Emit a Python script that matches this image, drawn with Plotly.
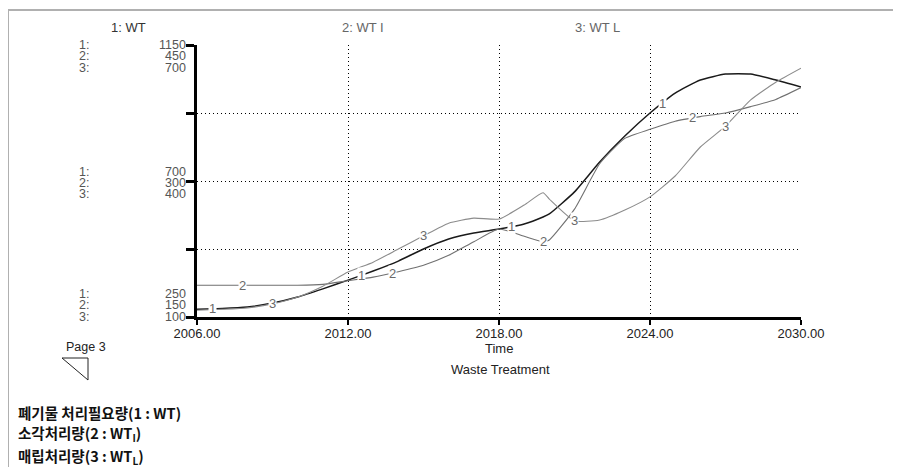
import plotly.graph_objects as go
import numpy as np

# ---------------- data ----------------
years = [2006, 2007, 2008, 2009, 2010, 2011, 2012, 2013, 2014, 2015, 2016, 2017, 2018, 2019,
         2019.75, 2020, 2021, 2022, 2023, 2024, 2025, 2026, 2027, 2028, 2029, 2030]
wt = [276, 278, 283, 296, 316, 343, 372, 402, 435, 475, 508, 528, 541, 558,
      581, 591, 664, 763, 849, 925, 991, 1034, 1054, 1054, 1034, 1011]
wt_i = [185, 185, 185, 185, 185, 186, 190, 194, 200, 207, 218, 233, 247, 239,
        233, 235, 269, 319, 347, 357, 366, 371, 375, 382, 390, 403]
wt_l = [115, 117, 120, 129, 144, 168, 199, 221, 250, 279, 307, 318, 316, 347,
        374, 360, 312, 314, 336, 365, 411, 475, 521, 579, 618, 649]

x_ticks = [2006, 2012, 2018, 2024, 2030]
x_tick_text = ["2006.00", "2012.00", "2018.00", "2024.00", "2030.00"]

y1_range = [250, 1150]
y2_range = [150, 450]
y3_range = [100, 700]
y1_labels = ["250", "700", "1150"]
y2_labels = ["150", "300", "450"]
y3_labels = ["100", "400", "700"]

series_names = ["1: WT", "2: WT I", "3: WT L"]
label_x1 = [2006.6, 2012.55, 2018.5, 2024.5]
label_x2 = [2007.8, 2013.75, 2019.75, 2025.7]
label_x3 = [2009.0, 2015.0, 2021.0, 2027.0]

legend_lines = ["<b>폐기물 처리필요량(1 : WT)</b>",
                "<b>소각처리량(2 : WT<sub>I</sub>)</b>",
                "<b>매립처리량(3 : WT<sub>L</sub>)</b>"]

# ---------------- geometry helpers ----------------
# page body has an 8px margin; the figure is sized so the page is exactly 901x475
OFF = 8
W, H = 901 - 2 * OFF, 475 - 2 * OFF
def fx(p):
    return (p - OFF) / W
def fy(p):
    return 1 - (p - OFF) / H

X0, X1 = 197, 801
Y0, Y1 = 45, 317

c1, c2, c3 = "#1a1a1a", "#707070", "#8c8c8c"
lab_col = "#6a6a6a"
FONT = "Liberation Sans"
GRID_DASH = "1px,3px"

fig = go.Figure()
fig.add_trace(go.Scatter(x=years, y=wt, mode="lines", yaxis="y",
                         line=dict(color=c1, width=1.5, shape="spline", smoothing=0.5),
                         showlegend=False, hoverinfo="skip"))
fig.add_trace(go.Scatter(x=years, y=wt_i, mode="lines", yaxis="y2",
                         line=dict(color=c2, width=1.1, shape="spline", smoothing=0.5),
                         showlegend=False, hoverinfo="skip"))
fig.add_trace(go.Scatter(x=years, y=wt_l, mode="lines", yaxis="y3",
                         line=dict(color=c3, width=1.1, shape="spline", smoothing=0.5),
                         showlegend=False, hoverinfo="skip"))

ann = []
# curve number labels
for lx_list, ys, yref, txt in [(label_x1, wt, "y", "1"), (label_x2, wt_i, "y2", "2"),
                               (label_x3, wt_l, "y3", "3")]:
    for lx in lx_list:
        ann.append(dict(x=lx, y=float(np.interp(lx, years, ys)), xref="x", yref=yref,
                        text=txt, showarrow=False, bgcolor="white", borderpad=0,
                        font=dict(family=FONT, size=13, color=lab_col)))

# header names
for name, px, col in zip(series_names, [128, 363, 597], ["#333333", "#666666", "#666666"]):
    ann.append(dict(x=fx(px), y=fy(27), xref="paper", yref="paper", text=name,
                    showarrow=False, xanchor="center", yanchor="middle",
                    font=dict(family=FONT, size=13, color=col)))

# y-axis scale labels (three groups)
groups = [
    (45, [y1_labels[2], y2_labels[2], y3_labels[2]]),
    (171.5, [y1_labels[1], y2_labels[1], y3_labels[1]]),
    (294, [y1_labels[0], y2_labels[0], y3_labels[0]]),
]
for top, vals in groups:
    for k, v in enumerate(vals):
        py = top + k * 11.4
        ann.append(dict(x=fx(77), y=fy(py), xref="paper", yref="paper", text=f"{k+1}:",
                        showarrow=False, xanchor="left", yanchor="middle",
                        font=dict(family=FONT, size=12.5, color="#555555")))
        ann.append(dict(x=fx(188), y=fy(py), xref="paper", yref="paper", text=v,
                        showarrow=False, xanchor="right", yanchor="middle",
                        font=dict(family=FONT, size=12.5, color="#555555")))

# axis titles
ann.append(dict(x=2018, y=fy(348), xref="x", yref="paper", text="Time", showarrow=False,
                xanchor="center", yanchor="middle", font=dict(family=FONT, size=13, color="#222")))
ann.append(dict(x=fx(501), y=fy(369), xref="paper", yref="paper", text="Waste Treatment",
                showarrow=False, xanchor="center", yanchor="middle",
                font=dict(family=FONT, size=13, color="#222")))
ann.append(dict(x=fx(86), y=fy(347), xref="paper", yref="paper", text="Page 3",
                showarrow=False, xanchor="center", yanchor="middle",
                font=dict(family=FONT, size=12.5, color="#222")))

# Korean legend text
for txt, py in zip(legend_lines, [412, 433, 456]):
    ann.append(dict(x=fx(16), y=fy(py), xref="paper", yref="paper", text=txt,
                    showarrow=False, xanchor="left", yanchor="middle",
                    font=dict(family="Noto Sans CJK KR", size=14.5, color="#111")))

shapes = [
    # frame (top and left)
    dict(type="line", xref="paper", yref="paper", x0=fx(8), x1=1.0, y0=fy(10), y1=fy(10),
         line=dict(color="#b0b0b0", width=2)),
    dict(type="line", xref="paper", yref="paper", x0=fx(8), x1=fx(8), y0=fy(10), y1=0,
         line=dict(color="#b0b0b0", width=2)),
    # page triangle
    dict(type="path", xref="paper", yref="paper",
         path=f"M {fx(62)},{fy(358)} L {fx(88)},{fy(358)} L {fx(88)},{fy(380)} Z",
         line=dict(color="#222", width=1), fillcolor="rgba(0,0,0,0)"),
]

fig.update_layout(
    template="none",
    width=W, height=H, autosize=False,
    margin=dict(l=0, r=0, t=0, b=0, pad=0, autoexpand=False),
    paper_bgcolor="white", plot_bgcolor="white",
    showlegend=False,
    xaxis=dict(domain=[fx(X0), fx(X1)], range=[2006, 2030], tickvals=x_ticks,
               ticktext=x_tick_text, ticks="outside", ticklen=5, tickwidth=2,
               tickcolor="black", showline=True, linewidth=3, linecolor="black",
               showgrid=True, gridcolor="black", gridwidth=1, griddash=GRID_DASH,
               zeroline=False, tickfont=dict(family=FONT, size=13, color="#222"),
               ticklabelstandoff=-3, automargin=False, fixedrange=True),
    yaxis=dict(domain=[fy(Y1), fy(Y0)], range=y1_range,
               tickvals=list(np.linspace(y1_range[0], y1_range[1], 5)),
               showticklabels=False, ticks="outside", ticklen=8, tickwidth=3,
               tickcolor="black", showline=True, linewidth=3, linecolor="black",
               showgrid=True, gridcolor="black", gridwidth=1, griddash=GRID_DASH,
               zeroline=False, automargin=False, fixedrange=True),
    yaxis2=dict(domain=[fy(Y1), fy(Y0)], overlaying="y", range=y2_range, visible=False,
                showgrid=False, automargin=False, fixedrange=True),
    yaxis3=dict(domain=[fy(Y1), fy(Y0)], overlaying="y", range=y3_range, visible=False,
                showgrid=False, automargin=False, fixedrange=True),
    annotations=ann,
    shapes=shapes,
)

fig.write_html("out.html")
